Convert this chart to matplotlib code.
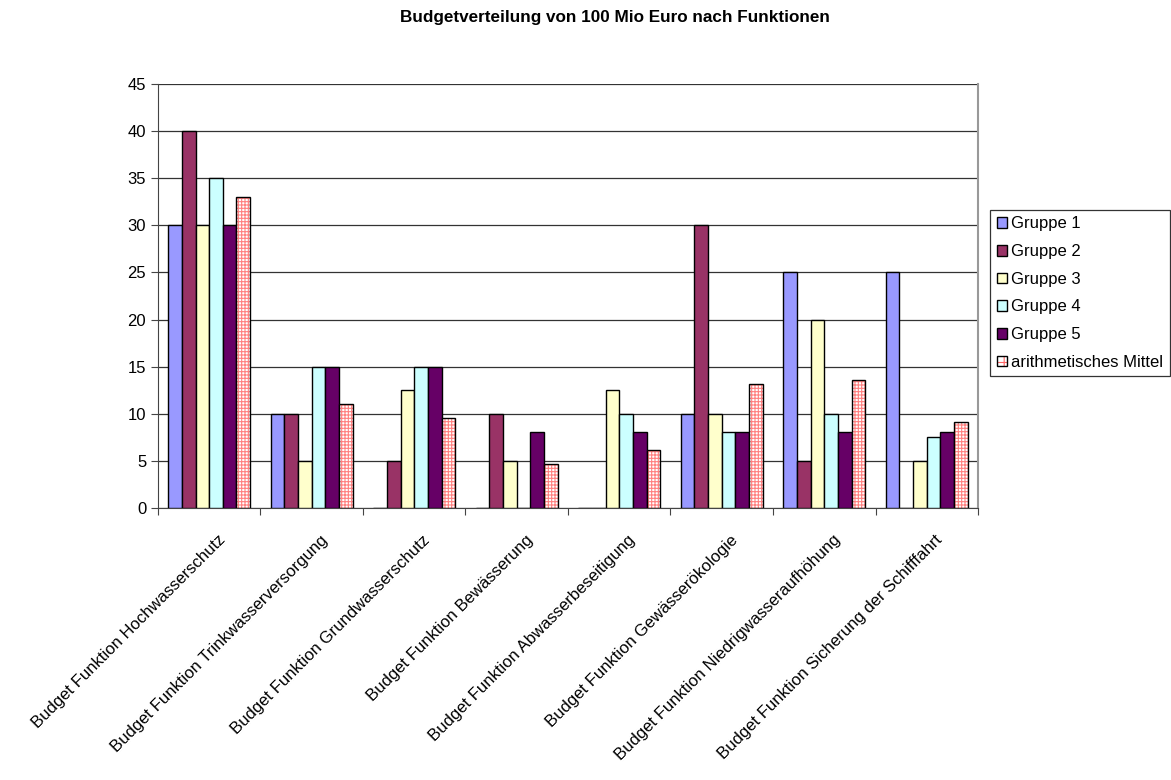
import numpy as np
import matplotlib
matplotlib.use("Agg")
import matplotlib.pyplot as plt
from matplotlib.patches import Patch

plt.rcParams['font.family'] = ['Liberation Sans', 'DejaVu Sans']
plt.rcParams['hatch.linewidth'] = 0.8

categories = ["Budget Funktion Hochwasserschutz",
              "Budget Funktion Trinkwasserversorgung",
              "Budget Funktion Grundwasserschutz",
              "Budget Funktion Bewässerung",
              "Budget Funktion Abwasserbeseitigung",
              "Budget Funktion Gewässerökologie",
              "Budget Funktion Niedrigwasseraufhöhung",
              "Budget Funktion Sicherung der Schifffahrt"]
gruppe1 = [30, 10, 0, 0, 0, 10, 25, 25]
gruppe2 = [40, 10, 5, 10, 0, 30, 5, 0]
gruppe3 = [30, 5, 12.5, 5, 12.5, 10, 20, 5]
gruppe4 = [35, 15, 15, 0, 10, 8, 10, 7.5]
gruppe5 = [30, 15, 15, 8, 8, 8, 8, 8]
mittel = [33, 11, 9.5, 4.6, 6.1, 13.2, 13.6, 9.1]
series_names = ["Gruppe 1", "Gruppe 2", "Gruppe 3", "Gruppe 4", "Gruppe 5",
                "arithmetisches Mittel"]
colors = ["#9999FF", "#993366", "#FFFFCC", "#CCFFFF", "#660066", "white"]

fig = plt.figure(figsize=(11.71, 7.8), dpi=100)
ax = fig.add_axes([0.1349, 0.349, 0.7003, 0.543])

x = np.arange(len(categories))
w = 0.133
series = [gruppe1, gruppe2, gruppe3, gruppe4, gruppe5]
for i, vals in enumerate(series):
    ax.bar(x + (i - 2.5) * w, vals, w, color=colors[i], edgecolor="black",
           linewidth=1.0, zorder=3)
# mean: red grid hatch, black outline
ax.bar(x + 2.5 * w, mittel, w, color="white", edgecolor="#FF8080",
       hatch="+++++", linewidth=0, zorder=3)
ax.bar(x + 2.5 * w, mittel, w, fill=False, edgecolor="black",
       linewidth=1.0, zorder=4)

ax.set_ylim(0, 45)
ax.set_xlim(-0.5, len(categories) - 0.5)
ax.set_yticks(range(0, 46, 5))
ax.yaxis.grid(True, color="#333333", linewidth=0.9, zorder=0)
ax.set_axisbelow(True)
ax.tick_params(axis="y", labelsize=12, length=5, color="#444444")

ax.set_xticks(np.arange(len(categories) + 1) - 0.5)
ax.set_xticklabels([])
ax.tick_params(axis="x", length=5, color="#444444")
for xi, lab in zip(x, categories):
    ax.text(xi + 0.08, -2.6, lab, rotation=45, ha="right", va="top",
            rotation_mode="anchor", fontsize=12)

ax.spines["top"].set_visible(False)
ax.spines["right"].set_color("#999999")
ax.spines["right"].set_linewidth(1.5)
ax.spines["left"].set_color("#444444")
ax.spines["bottom"].set_color("#444444")

fig.suptitle("Budgetverteilung von 100 Mio Euro nach Funktionen",
             fontsize=12.3, fontweight="bold", x=0.525, y=0.987)

handles = [Patch(facecolor=c, edgecolor="black", linewidth=1.0) for c in colors[:5]]
handles.append((Patch(facecolor="white", edgecolor="#FF6666", hatch="++", linewidth=0),
                Patch(fill=False, edgecolor="black", linewidth=1.0)))
leg = fig.legend(handles, series_names, loc="upper left",
                 bbox_to_anchor=(0.8455, 0.731), fontsize=12, frameon=True,
                 fancybox=False, edgecolor="black", handlelength=0.6,
                 handleheight=0.6, handletextpad=0.25, labelspacing=0.76,
                 borderpad=0.4, borderaxespad=0)
leg.get_frame().set_linewidth(0.9)

fig.savefig("out.png", dpi=100)
